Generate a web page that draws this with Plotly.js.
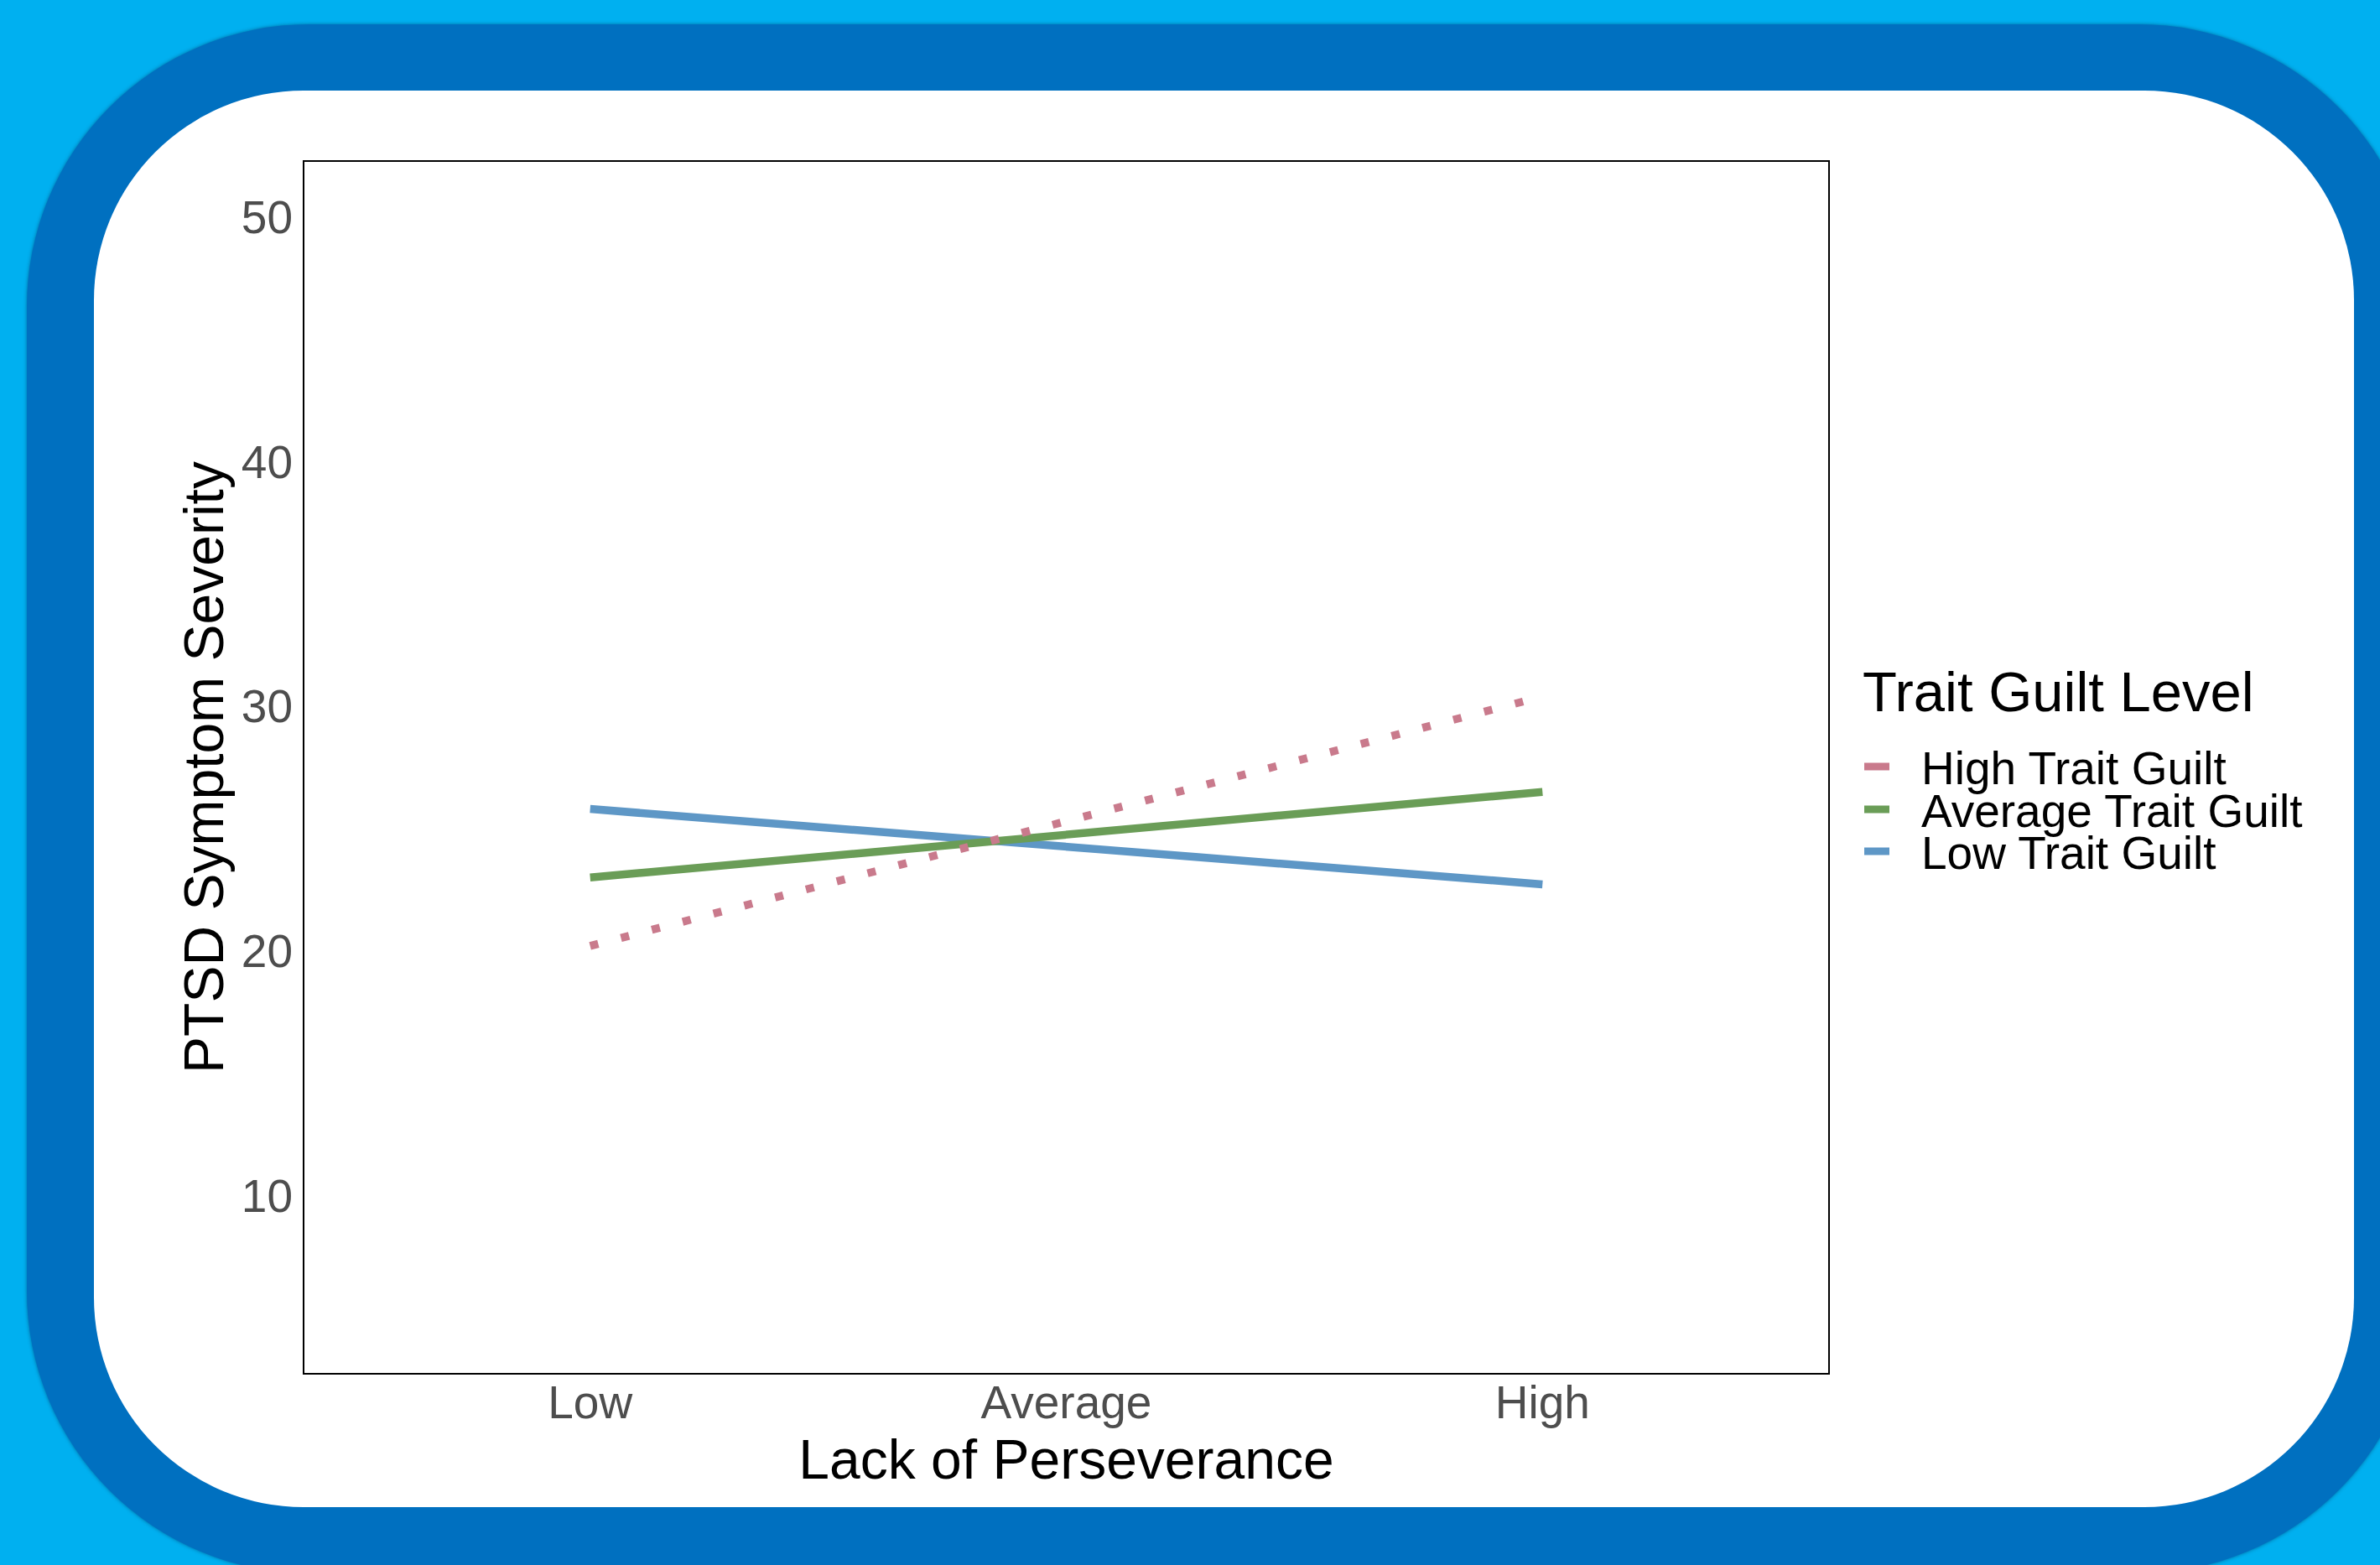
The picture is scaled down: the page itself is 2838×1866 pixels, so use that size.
<!DOCTYPE html>
<html><head><meta charset="utf-8">
<script src="https://cdn.plot.ly/plotly-3.0.1.min.js"></script>
<style>
html,body{margin:0;padding:0;width:2838px;height:1866px;overflow:hidden;background:#00B0F0;}
#ring{position:absolute;left:32px;top:29px;width:2855px;height:1847px;border-radius:337px;background:#0070C0;box-shadow:0 0 4px rgba(0,50,90,0.55);}
#card{position:absolute;left:112px;top:108px;width:2695px;height:1689px;border-radius:250px;background:#ffffff;}
#chart{position:absolute;left:0;top:0;width:2838px;height:1866px;}
</style></head>
<body><div id="ring"></div><div id="card"></div><div id="chart"></div>
<script>
const categories = ['Low', 'Average', 'High'];
const seriesNames = ['High Trait Guilt', 'Average Trait Guilt', 'Low Trait Guilt'];
const highGuiltValues = [20.2, 25.3, 30.4];
const averageGuiltValues = [23.0, 24.75, 26.5];
const lowGuiltValues = [25.8, 24.26, 22.72];
const yTickValues = [10, 20, 30, 40, 50];
const legendTitle = 'Trait Guilt Level';
const xTitle = 'Lack of Perseverance';
const yTitle = 'PTSD Symptom Severity';

const FONT = 'Liberation Sans, Arial, Helvetica, sans-serif';
const colors = ['#C97A8C', '#6A9D57', '#5E97C6'];
const dashes = ['10px,28px', 'solid', 'solid'];
const values = [highGuiltValues, averageGuiltValues, lowGuiltValues];

const traces = seriesNames.map((name, i) => ({
  type: 'scatter',
  mode: 'lines',
  name: name,
  x: categories,
  y: values[i],
  line: {color: colors[i], width: 9.5, dash: dashes[i]},
  showlegend: false,
  hoverinfo: 'x+y+name'
}));
// draw order: low, average, high (dotted) on top
const ordered = [traces[2], traces[1], traces[0]];

const L = 363, R = 2838 - 2180, T = 193, B = 1866 - 1637;
const plotW = 2838 - L - R, plotH = 1866 - T - B;
const px2x = p => (p - L) / plotW;
const py2y = p => (1866 - B - p) / plotH;

// legend (keys + labels) placed to the right of the panel
const legendRows = [914, 965, 1015];
const shapes = [];
const annotations = [{
  text: legendTitle, showarrow: false,
  xref: 'paper', yref: 'paper',
  x: px2x(2219), xanchor: 'left',
  y: py2y(824), yanchor: 'middle',
  font: {family: FONT, size: 67, color: '#000000'}
}];
seriesNames.forEach((name, i) => {
  shapes.push({
    type: 'line', xref: 'paper', yref: 'paper',
    x0: px2x(2223), x1: px2x(2253),
    y0: py2y(legendRows[i]), y1: py2y(legendRows[i]),
    line: {color: colors[i], width: 9}
  });
  annotations.push({
    text: name, showarrow: false,
    xref: 'paper', yref: 'paper',
    x: px2x(2289), xanchor: 'left',
    y: py2y(legendRows[i] + 2), yanchor: 'middle',
    font: {family: FONT, size: 55, color: '#000000'}
  });
});

const layout = {
  width: 2838, height: 1866,
  paper_bgcolor: 'rgba(0,0,0,0)',
  plot_bgcolor: '#ffffff',
  margin: {l: L, r: R, t: T, b: B, pad: 0},
  font: {family: FONT},
  showlegend: false,
  xaxis: {
    type: 'category',
    categoryorder: 'array', categoryarray: categories,
    range: [-0.6, 2.6],
    showgrid: false, zeroline: false,
    showline: true, mirror: true, linecolor: '#000000', linewidth: 2,
    ticks: '', ticklabelstandoff: -14,
    tickfont: {family: FONT, size: 55, color: '#4D4D4D'},
    title: {text: xTitle, font: {family: FONT, size: 66, color: '#000000'}, standoff: 0}
  },
  yaxis: {
    range: [2.75, 52.25],
    tickvals: yTickValues,
    showgrid: false, zeroline: false,
    showline: true, mirror: true, linecolor: '#000000', linewidth: 2,
    ticks: '', ticklabelstandoff: 1,
    tickfont: {family: FONT, size: 55, color: '#4D4D4D'},
    title: {text: yTitle, font: {family: FONT, size: 66, color: '#000000'}, standoff: 0}
  },
  shapes: shapes,
  annotations: annotations
};

Plotly.newPlot('chart', ordered, layout, {displayModeBar: false});
</script>
</body></html>
